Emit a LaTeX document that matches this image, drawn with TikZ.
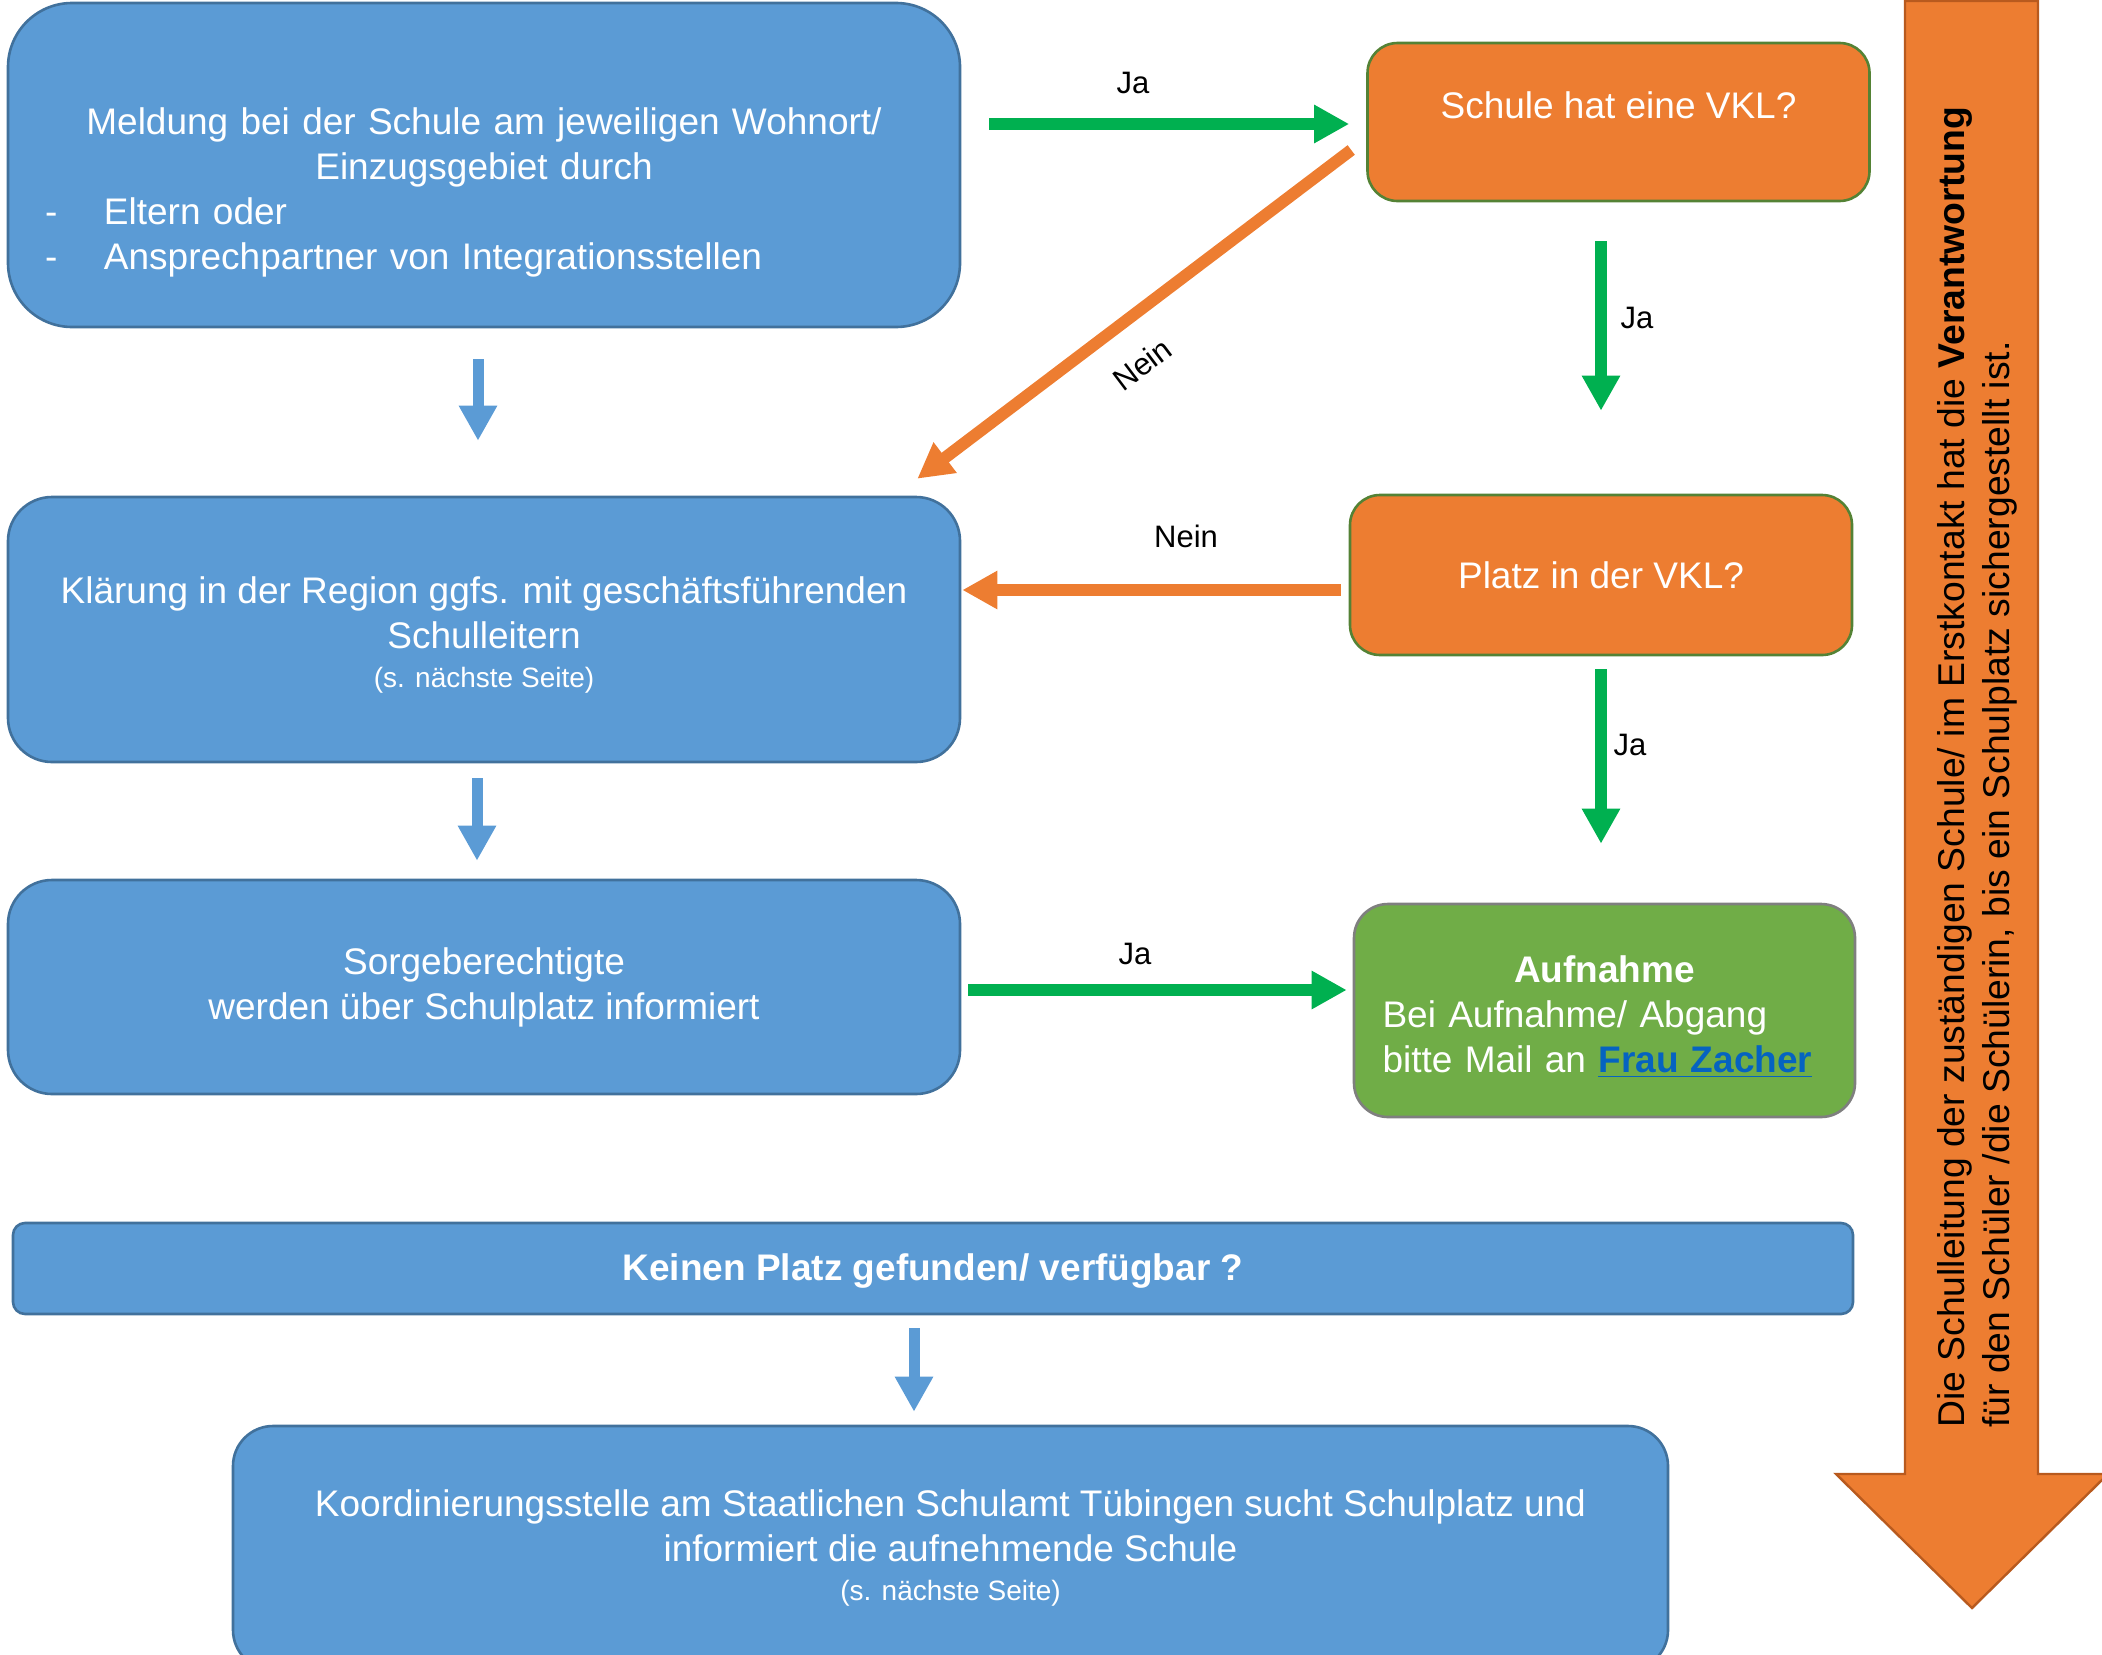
\documentclass[tikz,border=0pt]{standalone}
\usepackage{fontspec}
\setmainfont{Liberation Sans}
\usetikzlibrary{arrows.meta}
\definecolor{bfill}{HTML}{5B9BD5}
\definecolor{bdraw}{HTML}{41719C}
\definecolor{ofill}{HTML}{ED7D31}
\definecolor{odraw}{HTML}{548235}
\definecolor{gfill}{HTML}{70AD47}
\definecolor{gdraw}{HTML}{7F7F7F}
\definecolor{arrgreen}{HTML}{00B050}
\definecolor{bigdraw}{HTML}{B85A1E}
\definecolor{linkblue}{HTML}{0563C1}
\tikzset{
  bx/.style={draw=bdraw, fill=bfill, line width=1.3pt, inner sep=0pt},
  obx/.style={draw=odraw, fill=ofill, line width=1.3pt, inner sep=0pt, rounded corners=15pt,
              minimum width=251pt, minimum height=79pt},
  wt/.style={text=white, font=\fontsize{18.5}{22.5}\selectfont, align=center, inner sep=0pt},
  lbl/.style={text=black, font=\fontsize{15.5}{18}\selectfont, inner sep=0pt},
  garr/.style={draw=arrgreen, line width=6pt, -{Triangle[length=17.5pt,width=18pt]}},
  oarr/.style={draw=ofill, line width=6pt, -{Triangle[length=17.5pt,width=18pt]}},
  barr/.style={draw=bfill, line width=5.5pt, -{Triangle[length=17.5pt,width=18pt]}},
  bigarr/.style={draw=bigdraw, fill=ofill, line width=1.2pt, line join=miter},
}
\newcommand{\smallfs}{\fontsize{14}{17}\selectfont}
\begin{document}
\begin{tikzpicture}[x=0.5pt,y=-0.5pt]
\useasboundingbox (0,0) rectangle (2102,1654);
\clip (0,0) rectangle (2102,1654);

% big responsibility arrow
\draw[bigarr] (1905,1) -- (2038,1) -- (2038,1474) -- (2108,1474) -- (1972,1608)
  -- (1836,1474) -- (1905,1474) -- cycle;
\node[rotate=90, anchor=west, align=left, inner sep=0pt, text=black,
      font=\fontsize{18.65}{22.5}\selectfont] (resp) at (1977,1428)
  {Die Schulleitung der zuständigen Schule/ im Erstkontakt hat die \textbf{Verantwortung}\\
   für den Schüler /die Schülerin, bis ein Schulplatz sichergestellt ist.};

% left column boxes
\node[bx, rounded corners=32pt, minimum width=476pt, minimum height=162pt] (m1) at (484,165) {};
\node[wt, text width=439pt, align=left] (m1t) at (484,192)
  {\centering Meldung bei der Schule am jeweiligen Wohnort/\\Einzugsgebiet durch\par
   \raggedright\makebox[29.5pt][l]{-}Eltern oder\\
   \makebox[29.5pt][l]{-}Ansprechpartner von Integrationsstellen};

\node[bx, wt, rounded corners=22pt, minimum width=476pt, minimum height=132.5pt] (m2) at (484,629.5)
  {\rule{0pt}{18.5pt}Klärung in der Region ggfs. mit geschäftsführenden\\Schulleitern\\[-3pt]{\smallfs (s. nächste Seite)}};

\node[bx, wt, rounded corners=22pt, minimum width=476pt, minimum height=107pt] (m3) at (484,987)
  {Sorgeberechtigte\\werden über Schulplatz informiert};

\node[bx, wt, rounded corners=6pt, minimum width=920pt, minimum height=45.5pt] (K) at (933,1268.5)
  {\rule{0pt}{15.5pt}\textbf{Keinen Platz gefunden/ verfügbar ?}};

\node[bx, wt, rounded corners=20pt, minimum width=717.5pt, minimum height=122pt] (m5) at (950.5,1548)
  {Koordinierungsstelle am Staatlichen Schulamt Tübingen sucht Schulplatz und\\
   informiert die aufnehmende Schule\\[-3pt]{\smallfs (s. nächste Seite)}};

% right column
\node[obx] (A) at (1618.5,122) {};
\node[wt] (At) at ([yshift=8.5pt]A.center) {Schule hat eine VKL?};
\node[obx, wt, minimum height=80pt] (B) at (1601,575) {Platz in der VKL?};
\node[draw=gdraw, fill=gfill, line width=1.3pt, rounded corners=17pt, inner sep=0pt,
      minimum width=250.5pt, minimum height=106.5pt, text=white,
      font=\fontsize{18.5}{22.5}\selectfont, text width=222pt, align=left] (C) at (1604.5,1010.5)
  {\centering\rule{0pt}{19.5pt}\textbf{Aufnahme}\par
   \raggedright Bei Aufnahme/ Abgang\\
   bitte Mail an \textcolor{linkblue}{\underline{\textbf{Frau Zacher}}}};

% connectors
\draw[garr, shorten <=14pt, shorten >=8.5pt] ([yshift=-1pt]m1.east |- A.west) -- ([yshift=-1pt]A.west);
\draw[oarr] ([shift={(-7.5pt,-14pt)}]A.west) -- ([shift={(-22pt,8.5pt)}]m2.north east);
\draw[garr, shorten <=19.5pt, shorten >=41.5pt] (A.south -| B.north) -- (B.north);
\draw[garr, shorten <=6.5pt, shorten >=29.5pt] (B.south) -- (B.south |- C.north);
\draw[oarr, shorten <=4pt, shorten >=0.5pt] ([yshift=-7.5pt]B.west) -- ([yshift=-7.5pt]B.west -| m2.east);
\draw[garr, shorten <=3.5pt, shorten >=3pt] ([yshift=-1.5pt]m3.east) -- ([yshift=-1.5pt]m3.east -| C.west);
\draw[barr, shorten <=15.5pt, shorten >=27.5pt] ([xshift=-3pt]m1.south) -- ([xshift=-3pt]m2.north);
\draw[barr, shorten <=7.5pt, shorten >=9pt] ([xshift=-3.5pt]m2.south) -- ([xshift=-3.5pt]m3.north);
\draw[barr, shorten <=6.5pt, shorten >=6.5pt] ([xshift=-9.5pt]K.south) -- ([xshift=-9.5pt]K.south |- m5.north);

% connector labels
\node[lbl] (l1) at (1133,83) {Ja};
\node[lbl, rotate=37] (l2) at (1142,364) {Nein};
\node[lbl] (l3) at (1637,318) {Ja};
\node[lbl] (l4) at (1186,536) {Nein};
\node[lbl] (l5) at (1630,745) {Ja};
\node[lbl] (l6) at (1135,954) {Ja};
\end{tikzpicture}
\end{document}
